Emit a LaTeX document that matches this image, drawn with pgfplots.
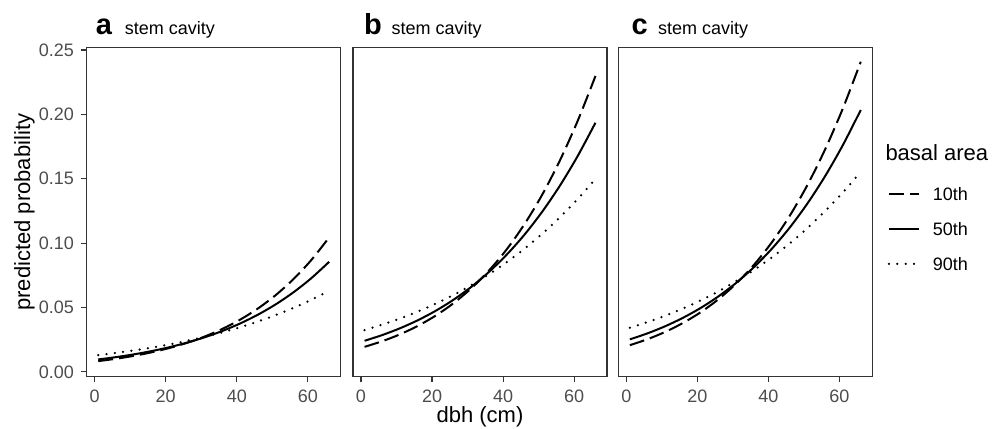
\documentclass[border=0pt]{standalone}
\usepackage{fontspec}
\setmainfont{Liberation Sans}
\usepackage{pgfplots}
\usepackage{pgfplotstable}
\pgfplotsset{compat=1.18}
\definecolor{grey20}{HTML}{333333}
\definecolor{grey30}{HTML}{4D4D4D}

% predicted probability by dbh, one table per panel (10th / 50th / 90th basal area)
\pgfplotstableread{
x  d10     d50     d90
1  0.00830 0.00961 0.01300
6  0.01015 0.01141 0.01471
11 0.01240 0.01355 0.01664
16 0.01514 0.01609 0.01882
21 0.01848 0.01910 0.02128
26 0.02253 0.02266 0.02406
31 0.02745 0.02685 0.02718
36 0.03342 0.03180 0.03070
41 0.04062 0.03762 0.03466
46 0.04928 0.04446 0.03912
51 0.05970 0.05249 0.04411
56 0.07215 0.06188 0.04972
61 0.08693 0.07278 0.05599
66 0.10443 0.08547 0.06301
}\panela
\pgfplotstableread{
x  d10     d50     d90
1  0.01940 0.02410 0.03240
6  0.02379 0.02857 0.03666
11 0.02915 0.03385 0.04144
16 0.03569 0.04006 0.04682
21 0.04361 0.04735 0.05288
26 0.05319 0.05590 0.05963
31 0.06474 0.06588 0.06725
36 0.07860 0.07752 0.07570
41 0.09508 0.09097 0.08511
46 0.11463 0.10650 0.09561
51 0.13755 0.12433 0.10724
56 0.16426 0.14465 0.12009
61 0.19497 0.16767 0.13425
66 0.22980 0.19350 0.14980
}\panelb
\pgfplotstableread{
x  d10     d50     d90
1  0.02070 0.02520 0.03420
6  0.02537 0.02991 0.03865
11 0.03107 0.03547 0.04363
16 0.03801 0.04202 0.04924
21 0.04638 0.04972 0.05556
26 0.05653 0.05873 0.06258
31 0.06873 0.06925 0.07057
36 0.08333 0.08150 0.07918
41 0.10070 0.09570 0.08897
46 0.12118 0.11204 0.09975
51 0.14518 0.13082 0.11173
56 0.17301 0.15218 0.12495
61 0.20488 0.17634 0.13947
66 0.24090 0.20340 0.15540
}\panelc

\pgfplotsset{
  panel/.style={
    scale only axis, width=127pt, height=164.5pt, anchor=south west,
    xmin=-2.25, xmax=69.25, ymin=-0.0038, ymax=0.2518,
    xtick={0,20,40,60}, tick pos=left, tick align=outside,
    major tick length=2.85pt,
    axis line style={grey20, line width=0.55pt},
    tick style={grey20, line width=0.55pt},
    /pgf/number format/assume math mode=true,
    tick label style={font=\fontsize{9}{10}\selectfont, text=grey30},
  },
  p10/.style={black, line width=1pt, smooth, dash pattern=on 7.5pt off 3pt},
  p50/.style={black, line width=1pt, smooth},
  p90/.style={black, line width=1.25pt, smooth, line cap=round, dash pattern=on 0pt off 4.17pt},
}

\begin{document}
\begin{tikzpicture}
\useasboundingbox (0pt,0pt) rectangle (501.5pt,-214.5pt);

% a
\begin{axis}[panel, at={(43.35pt,-188.35pt)},
  ytick={0,0.05,0.10,0.15,0.20,0.25},
  yticklabels={0.00,0.05,0.10,0.15,0.20,0.25},
  ylabel={predicted probability},
  ylabel style={at={(axis description cs:-0.2232,0.5)}, anchor=base,
                font=\fontsize{11}{13}\selectfont}]
\addplot[p10] table[x=x, y=d10] {\panela};
\addplot[p50] table[x=x, y=d50] {\panela};
\addplot[p90] table[x=x, y=d90] {\panela};
\end{axis}

% b
\begin{axis}[panel, at={(176.5pt,-188.35pt)}, ytick=\empty,
  xlabel={dbh (cm)},
  xlabel style={at={(axis description cs:0.5,-0.1407)}, anchor=base,
                font=\fontsize{11}{13}\selectfont}]
\addplot[p10] table[x=x, y=d10] {\panelb};
\addplot[p50] table[x=x, y=d50] {\panelb};
\addplot[p90] table[x=x, y=d90] {\panelb};
\end{axis}

% c, with the legend
\begin{axis}[panel, at={(309.15pt,-188.35pt)}, ytick=\empty,
  legend cell align=left,
  legend image code/.code={\draw[#1] (0pt,0pt) -- (15pt,0pt);},
  legend style={at={(axis description cs:1.0607,0.576)}, anchor=north west,
    draw=none, fill=none, inner sep=0pt, outer sep=0pt,
    row sep=11.05pt, column sep=6.3pt,
    nodes={inner sep=0pt, text height=6.5pt, text depth=0pt,
           font=\fontsize{9}{10}\selectfont}}]
\addplot[p10] table[x=x, y=d10] {\panelc};
\addlegendentry{10th}
\addplot[p50] table[x=x, y=d50] {\panelc};
\addlegendentry{50th}
\addplot[p90] table[x=x, y=d90] {\panelc};
\addlegendentry{90th}
\end{axis}

% panel tags and titles
\foreach \tag/\tx/\sx in {a/47.75/62.25, b/181.85/195.6, c/315.6/328.9} {
  \node[anchor=base west, inner sep=0pt, font=\fontsize{14.5}{16}\selectfont\bfseries]
    at (\tx pt,-17.15pt) {\tag};
  \node[anchor=base west, inner sep=0pt, font=\fontsize{9}{10}\selectfont]
    at (\sx pt,-17.15pt) {stem cavity};
}
\node[anchor=base west, inner sep=0pt, font=\fontsize{11}{13}\selectfont]
  at (442.55pt,-80.35pt) {basal area};
\end{tikzpicture}
\end{document}
